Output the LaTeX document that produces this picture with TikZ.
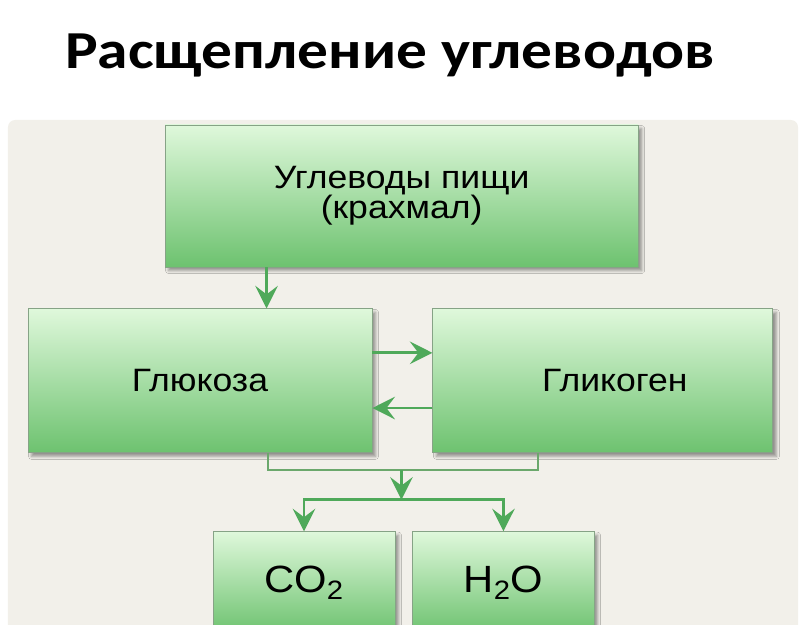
\documentclass[tikz,border=0pt]{standalone}
\usepackage{fontspec}
\setmainfont{Liberation Sans}[FakeStretch=1.1]
\newfontfamily\titlefont{Carlito}[FakeStretch=1.15]
\usetikzlibrary{arrows.meta, positioning, calc, shadows.blur}
\definecolor{panelbg}{HTML}{F2F0EA}
\definecolor{boxtop}{HTML}{DFF8DB}
\definecolor{boxbottom}{HTML}{6DC26F}
\definecolor{boxborder}{HTML}{86A386}
\definecolor{arrgreen}{HTML}{4FA95A}
\definecolor{linkgreen}{HTML}{6BA86C}

\begin{document}
\begin{tikzpicture}[
    box/.style={
        rectangle, draw=boxborder, line width=0.6pt,
        top color=boxtop, bottom color=boxbottom,
        text=black, align=center, inner sep=0pt,
        font=\fontsize{23}{21.5}\selectfont,
        blur shadow={shadow blur steps=4, shadow xshift=2.5pt,
                     shadow yshift=-2.5pt}
    },
    arr/.style={-{Stealth[length=16pt, width=16pt, inset=6pt]},
        line width=2pt, arrgreen},
    link/.style={line width=1.4pt, linkgreen}
]
\useasboundingbox (0,0) rectangle (20.175,-15.625);

% --- Title ---
\node[font=\titlefont\bfseries\fontsize{38}{40}\selectfont, anchor=base]
      (title) at (9.75,-1.72) {Расщепление углеводов};

% --- Panel ---
\fill[panelbg, rounded corners=5pt] (0.2,-3.0) rectangle (19.95,-16.2);

% --- Boxes ---
\node[box, minimum width=11.83cm, minimum height=3.55cm] (food)
      at (10.04,-4.9) {Углеводы пищи\\(крахмал)};
\node[box, minimum width=8.6cm, minimum height=3.6cm,
      below=1.025cm of food, xshift=-5.04cm] (glc) {Глюкоза};
\node[box, minimum width=8.5cm, minimum height=3.6cm,
      right=1.5cm of glc] (glg) {\hspace*{0.6cm}Гликоген};
\node[box, minimum width=4.55cm, minimum height=2.55cm,
      font=\fontsize{27}{30}\selectfont,
      below=1.95cm of glc, xshift=2.6cm] (co2) {CO\textsubscript{2}};
\node[box, minimum width=4.53cm, minimum height=2.55cm,
      font=\fontsize{27}{30}\selectfont,
      right=0.425cm of co2] (h2o) {H\textsubscript{2}O};

% --- Arrows ---
\coordinate (fa) at ([xshift=2.55cm]food.south west);
\draw[arr] (fa) -- (fa |- glc.north);
\draw[arr] ([yshift=0.7cm]glc.east) -- ([yshift=0.7cm]glg.west);
\draw[arr] ([yshift=-0.68cm]glg.west) -- ([yshift=-0.68cm]glc.east);

\coordinate (m1) at ($(glc.south)!0.5!(glg.south) + (0,-0.43)$);
\coordinate (m2) at ($(m1) + (0,-0.73)$);
\draw[link] ([xshift=1.7cm]glc.south) |- (m1)
            -| ([xshift=-1.63cm]glg.south);
\draw[arr] (m1) -- (m2);
\draw[arr] (m2) -| (co2.north);
\draw[arr] (m2) -| (h2o.north);
\end{tikzpicture}
\end{document}
